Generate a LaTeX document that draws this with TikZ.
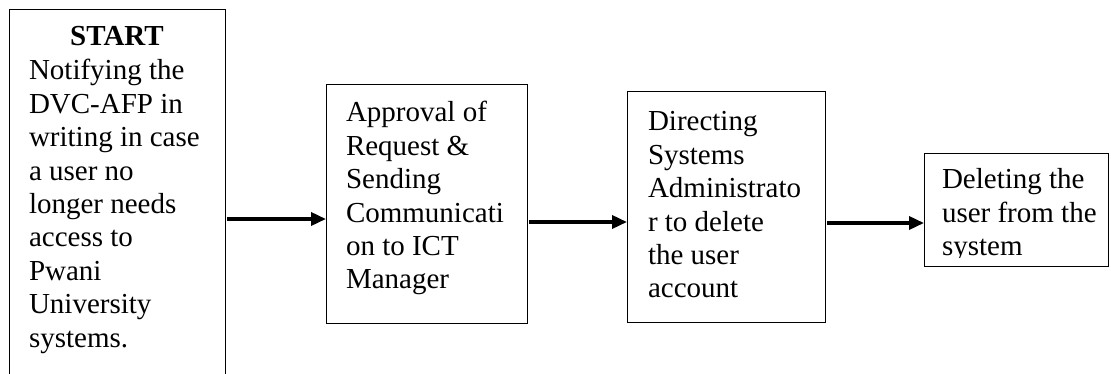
\documentclass[tikz,border=0pt]{standalone}
\usepackage{fontspec}
\setmainfont{Liberation Serif}
\usetikzlibrary{arrows.meta}
\begin{document}
\begin{tikzpicture}[x=1pt,y=-1pt,
  box/.style={draw=black, line width=0.9pt, fill=none, inner sep=0pt, outer sep=0pt, anchor=north west},
  txt/.style={inner sep=0pt, outer sep=0pt, anchor=base west, font=\fontsize{29}{33.4}\selectfont},
  arr/.style={line width=3.5pt, -{Triangle[length=15pt,width=13pt]}}]
\useasboundingbox (0,0) rectangle (1111,374);
\fill[white] (0,0) rectangle (1111,374);
% boxes
\node[box, minimum width=216pt, minimum height=420pt] (b1) at (9,9) {};
\node[box, minimum width=201pt, minimum height=239pt] (b2) at (326,84) {};
\node[box, minimum width=198pt, minimum height=231pt] (b3) at (627,91) {};
\node[box, minimum width=184pt, minimum height=113pt] (b4) at (924,153) {};
% texts
\node[txt, anchor=base, font=\bfseries\fontsize{29}{33.4}\selectfont] (s1) at (117,46) {START};
\node[txt] (t1) at (29,80) {\parbox[t]{200pt}{\raggedright Notifying the\\DVC-AFP in\\writing in case\\a user no\\longer needs\\access to\\Pwani\\University\\systems.}};
\node[txt] (t2) at (346,122) {\parbox[t]{190pt}{\raggedright Approval of\\Request \&\\Sending\\Communicati\\on to ICT\\Manager}};
\node[txt] (t3) at (648,131) {\parbox[t]{180pt}{\raggedright Directing\\Systems\\Administrato\\r to delete\\the user\\account}};
\begin{scope}
\clip (924,153) rectangle (1108,257.5);
\node[txt] (t4) at (942,189) {\parbox[t]{170pt}{\raggedright Deleting the\\user from the\\system}};
\end{scope}
% connectors
\coordinate (y1) at (0,219);
\coordinate (y2) at (0,222);
\coordinate (y3) at (0,223);
\draw[arr] ([xshift=2pt]b1.east |- y1) -- (b2.west |- y1);
\draw[arr] ([xshift=2pt]b2.east |- y2) -- (b3.west |- y2);
\draw[arr] ([xshift=2pt]b3.east |- y3) -- (b4.west |- y3);
\end{tikzpicture}
\end{document}
